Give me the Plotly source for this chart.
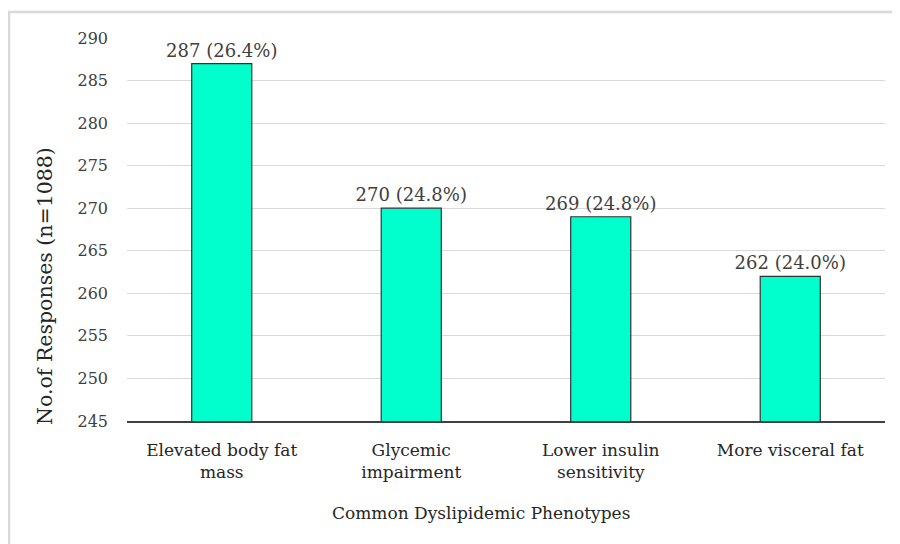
import plotly.graph_objects as go

categories = ["Elevated body fat<br>mass", "Glycemic<br>impairment", "Lower insulin<br>sensitivity", "More visceral fat"]
values = [287, 270, 269, 262]
percent_labels = ["26.4%", "24.8%", "24.8%", "24.0%"]
y_ticks = list(range(245, 291, 5))
y_title = "No.of Responses (n=1088)"
x_title = "Common Dyslipidemic Phenotypes"

labels = [f"{v} ({p})" for v, p in zip(values, percent_labels)]
font_family = "DejaVu Serif, Liberation Serif, serif"
text_color = "#404040"
title_color = "#262626"

# page has an 8px body offset; figure sized to land on the 900x544 window
W, H = 892, 536
L, T, R, B = 119, 30, 15, 123
pw, ph = W - L - R, H - T - B

fig = go.Figure(go.Bar(
    x=categories, y=values, text=labels, textposition="outside",
    cliponaxis=False,
    textfont=dict(family=font_family, size=18, color=text_color),
    marker=dict(color="#00FFCC", line=dict(color="#333333", width=1.2)),
    width=0.317,
))

fig.update_layout(
    width=W, height=H,
    margin=dict(l=L, r=R, t=T, b=B, autoexpand=False),
    plot_bgcolor="white", paper_bgcolor="white",
    showlegend=False,
    uniformtext=dict(minsize=18, mode="show"),
    font=dict(family=font_family, size=16, color=text_color),
    shapes=[dict(type="rect", xref="paper", yref="paper",
                 x0=(1 - L) / pw, x1=(W + 10 - L) / pw,
                 y0=-(B + 20) / ph, y1=(ph + T - 4) / ph,
                 line=dict(color="#d9d9d9", width=2.5), fillcolor="rgba(0,0,0,0)",
                 layer="below")],
    annotations=[
        dict(text=y_title, textangle=-90, showarrow=False,
             xref="paper", yref="paper",
             x=(37 - L) / pw, y=(ph - (278 - T)) / ph,
             xanchor="center", yanchor="middle",
             font=dict(family=font_family, size=20.5, color=title_color)),
        dict(text=x_title, showarrow=False,
             xref="paper", yref="paper",
             x=(473 - L) / pw, y=-(505 - T - ph) / ph,
             xanchor="center", yanchor="middle",
             font=dict(family=font_family, size=17, color=title_color)),
    ],
)
fig.update_yaxes(
    range=[245, 290], tickvals=y_ticks, showgrid=True, gridcolor="#d9d9d9", gridwidth=1.3,
    zeroline=False, showline=False, ticks="", ticklabelstandoff=18,
    tickfont=dict(family=font_family, size=16, color=text_color),
)
fig.update_xaxes(
    showline=True, linecolor="#404040", linewidth=1.5, ticks="",
    ticklabelstandoff=13,
    tickfont=dict(family=font_family, size=17, color=title_color),
)

fig.write_html("out.html")
